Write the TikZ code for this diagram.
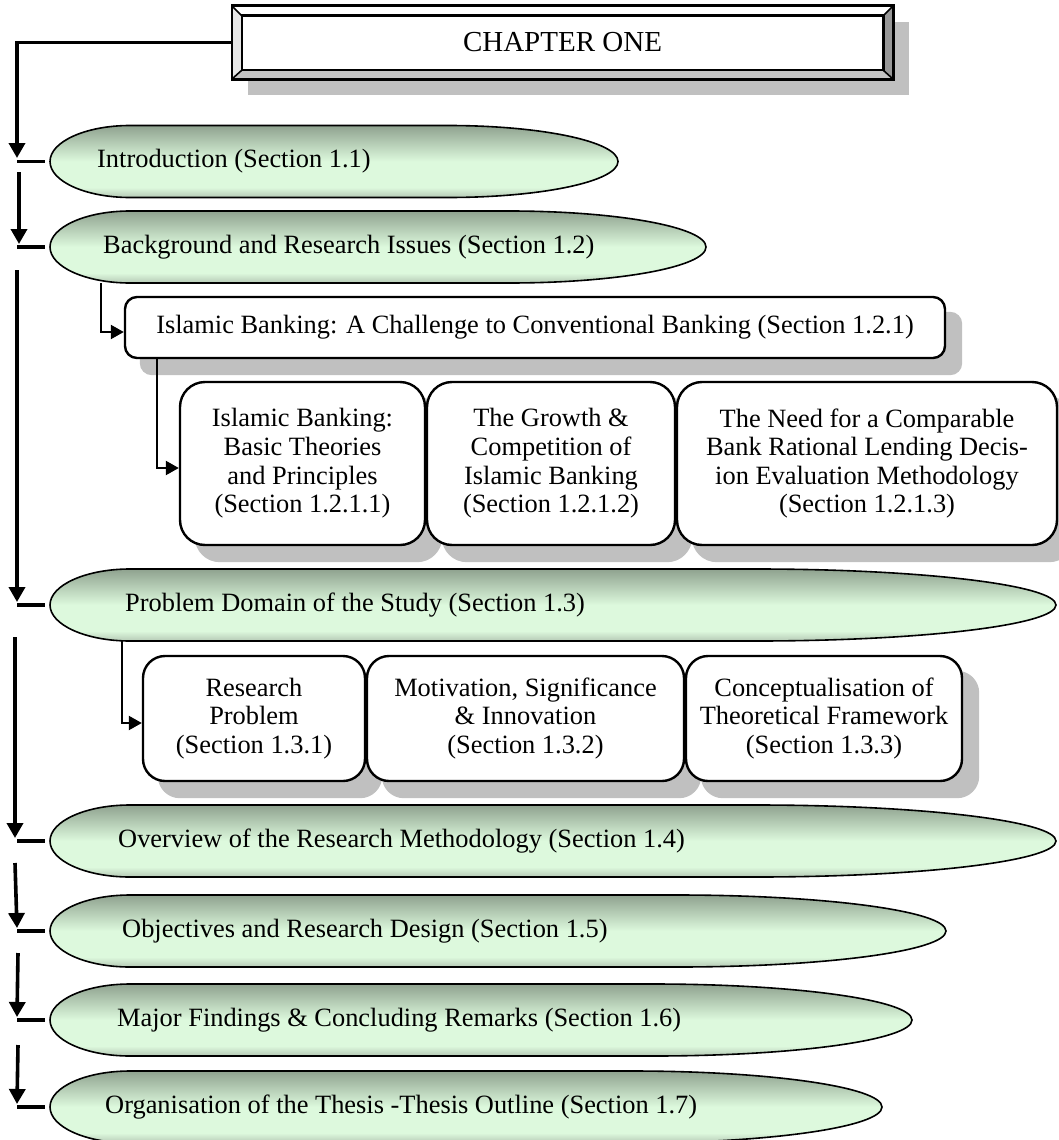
\documentclass[tikz,border=0pt]{standalone}
\usepackage{fontspec}
\setmainfont{Liberation Serif}
\usetikzlibrary{arrows.meta}

\definecolor{shadowgray}{HTML}{C0C0C0}
\definecolor{pilltop}{HTML}{8FA28F}
\definecolor{pillmid}{HTML}{DDF9DD}
\definecolor{pillbot}{HTML}{B5C9B5}
\definecolor{bevelleft}{HTML}{E6E6E6}
\definecolor{bevelright}{HTML}{989898}
\definecolor{bevelbottom}{HTML}{C4C4C4}

% capsule fill: dark at the top, light band below the middle, slightly dark at the bottom
\pgfdeclareverticalshading{pillshading}{100bp}{%
  color(0bp)=(pillbot); color(25bp)=(pillbot); color(32bp)=(pillmid);
  color(50bp)=(pillmid); color(75bp)=(pilltop); color(100bp)=(pilltop)}

\pgfdeclarelayer{paper}
\pgfdeclarelayer{shadow}
\pgfdeclarelayer{bevel}
\pgfsetlayers{paper,shadow,bevel,main}

\newcommand\txtsize{\fontsize{26.4}{28.6}\selectfont}
\newcommand\capL{80}

% #1 name, #2 left x, #3 right x, #4 centre y, #5 text x, #6 right cap length, #7 text
\newcommand\pill[7]{%
  \node[pillframe, minimum width={#3-#2}] (#1) at ({(#2+#3)/2},#4) {};
  \path[pillfill] ({#2+\capL},{#4-36}) -- ({#3-#6},{#4-36})
    arc[start angle=90, end angle=-90, x radius=#6pt, y radius=36pt]
    -- ({#2+\capL},{#4+36})
    arc[start angle=270, end angle=90, x radius=\capL pt, y radius=36pt] -- cycle;
  \node[pilltext] (#1t) at (#5,#4) {#7};
}

\begin{document}
\begin{tikzpicture}[x=1pt, y=-1pt,
  spine/.style={line width=3.6pt, -{Triangle[length=15pt,width=16pt]}},
  stub/.style={line width=3.6pt, shorten >=5pt},
  link/.style={line width=2.2pt, -{Triangle[length=13pt,width=14pt]}},
  rbox/.style={draw, line width=2.4pt, fill=white, rounded corners=#1,
    inner sep=0pt, align=center, font=\txtsize},
  pillframe/.style={inner sep=0pt, minimum height=72},
  pillfill/.style={draw, line width=1.6pt, shading=pillshading},
  pilltext/.style={inner sep=0pt, anchor=west, font=\txtsize},
  chapbox/.style={inner sep=0pt, minimum width=661, minimum height=73,
    font=\fontsize{29}{32}\selectfont},
  bevelline/.style={draw, line width=2.6pt, line join=miter}
]
\useasboundingbox (0,0) rectangle (1058,1140);
\clip (0,0) rectangle (1058,1140);
\begin{pgfonlayer}{paper}
  \fill[white] (0,0) rectangle (1058,1140);
\end{pgfonlayer}

% ---------- title plate ----------
\node[chapbox] (ch) at (562.5,42.5) {CHAPTER ONE};
\begin{pgfonlayer}{shadow}
  \fill[shadowgray] ([shift={(16,16)}]ch.north west) rectangle ([shift={(16,16)}]ch.south east);
\end{pgfonlayer}
\begin{pgfonlayer}{bevel}
  \fill[white] (ch.north west) -- (ch.north east) -- ([shift={(-10,10)}]ch.north east)
    -- ([shift={(10,10)}]ch.north west) -- cycle;
  \fill[bevelleft] (ch.north west) -- ([shift={(10,10)}]ch.north west)
    -- ([shift={(10,-9)}]ch.south west) -- (ch.south west) -- cycle;
  \fill[bevelright] (ch.north east) -- (ch.south east) -- ([shift={(-10,-9)}]ch.south east)
    -- ([shift={(-10,10)}]ch.north east) -- cycle;
  \fill[bevelbottom] (ch.south west) -- ([shift={(10,-9)}]ch.south west)
    -- ([shift={(-10,-9)}]ch.south east) -- (ch.south east) -- cycle;
  \draw[bevelline, fill=white] ([shift={(10,10)}]ch.north west) rectangle ([shift={(-10,-9)}]ch.south east);
  \draw[line width=1.6pt] (ch.north west) -- ([shift={(10,10)}]ch.north west)
    (ch.north east) -- ([shift={(-10,10)}]ch.north east)
    (ch.south west) -- ([shift={(10,-9)}]ch.south west)
    (ch.south east) -- ([shift={(-10,-9)}]ch.south east);
  \draw[bevelline] (ch.north west) rectangle (ch.south east);
\end{pgfonlayer}

% ---------- section capsules ----------
\pill{e1}{50}{618}{161.5}{97}{170}{Introduction (Section 1.1)}
\pill{e2}{50}{706}{247}{103}{197}{Background and Research Issues (Section 1.2)}
\pill{e3}{50}{1056}{605}{125}{300}{Problem Domain of the Study (Section 1.3)}
\pill{e4}{50}{1056}{841}{118}{300}{Overview of the Research Methodology (Section 1.4)}
\pill{e5}{50}{946}{931}{122}{269}{Objectives and Research Design (Section 1.5)}
\pill{e6}{50}{912}{1020}{117}{259}{Major Findings \& Concluding Remarks (Section 1.6)}
\pill{e7}{50}{882}{1107}{105}{250}{Organisation of the Thesis -Thesis Outline (Section 1.7)}

% ---------- sub-section boxes ----------
\node[rbox=12pt, minimum width=820, minimum height=61] (A) at (535,327.5)
  {Islamic Banking: A Challenge to Conventional Banking (Section 1.2.1)};
\node[rbox=25pt, minimum width=245, minimum height=163] (b1) at (302.5,463.5)
  {Islamic Banking:\\Basic Theories\\and Principles\\(Section 1.2.1.1)};
\node[rbox=25pt, minimum width=248, minimum height=163] (b2) at (551,463.5)
  {The Growth \&\\Competition of\\Islamic Banking\\(Section 1.2.1.2)};
\node[rbox=25pt, minimum width=380, minimum height=163] (b3) at (867,463.5)
  {The Need for a Comparable\\Bank Rational Lending Decis-\\ion Evaluation Methodology\\(Section 1.2.1.3)};
\node[rbox=22pt, minimum width=222, minimum height=125] (c1) at (254,718.5)
  {Research\\Problem\\(Section 1.3.1)};
\node[rbox=22pt, minimum width=317, minimum height=125] (c2) at (525.5,718.5)
  {Motivation, Significance\\\& Innovation\\(Section 1.3.2)};
\node[rbox=22pt, minimum width=276, minimum height=125] (c3) at (824,718.5)
  {Conceptualisation of\\Theoretical Framework\\(Section 1.3.3)};

\begin{pgfonlayer}{shadow}
  \foreach \n/\r in {A/12,b1/25,b2/25,b3/25,c1/22,c2/22,c3/22}{
    \fill[shadowgray, rounded corners=\r pt]
      ([shift={(16,16)}]\n.north west) rectangle ([shift={(16,16)}]\n.south east);
  }
\end{pgfonlayer}

% ---------- left spine ----------
\coordinate (s0) at (17,42.5);  \coordinate (t0) at (17,158);
\coordinate (s1) at (19,172);   \coordinate (t1) at (19,244);
\coordinate (s2) at (17,270);   \coordinate (t2) at (17,602);
\coordinate (s3) at (15,637);   \coordinate (t3) at (15,838);
\coordinate (s4) at (15,863);   \coordinate (t4) at (17,928);
\coordinate (s5) at (18,953);   \coordinate (t5) at (17,1017);
\coordinate (s6) at (18,1045);  \coordinate (t6) at (17,1104);

\draw[spine] (ch.west) -- (s0) -- (t0);
\draw[spine] (s1) -- (t1);
\draw[spine] (s2) -- (t2);
\draw[spine] (s3) -- (t3);
\draw[spine] (s4) -- (t4);
\draw[spine] (s5) -- (t5);
\draw[spine] (s6) -- (t6);

\foreach \e in {e1,e2,e3,e4,e5,e6,e7}{
  \draw[stub] (\e.west -| t0) -- (\e.west);
}

% ---------- inner connectors ----------
\coordinate (j1) at (101,332);
\coordinate (j2) at (157,468);
\coordinate (j3) at (122,723);
\draw[link] (e2.south -| j1) -- (j1) -- (A.west |- j1);
\draw[link] (A.south -| j2) -- (j2) -- (b1.west |- j2);
\draw[link] (e3.south -| j3) -- (j3) -- (c1.west |- j3);
\end{tikzpicture}
\end{document}
